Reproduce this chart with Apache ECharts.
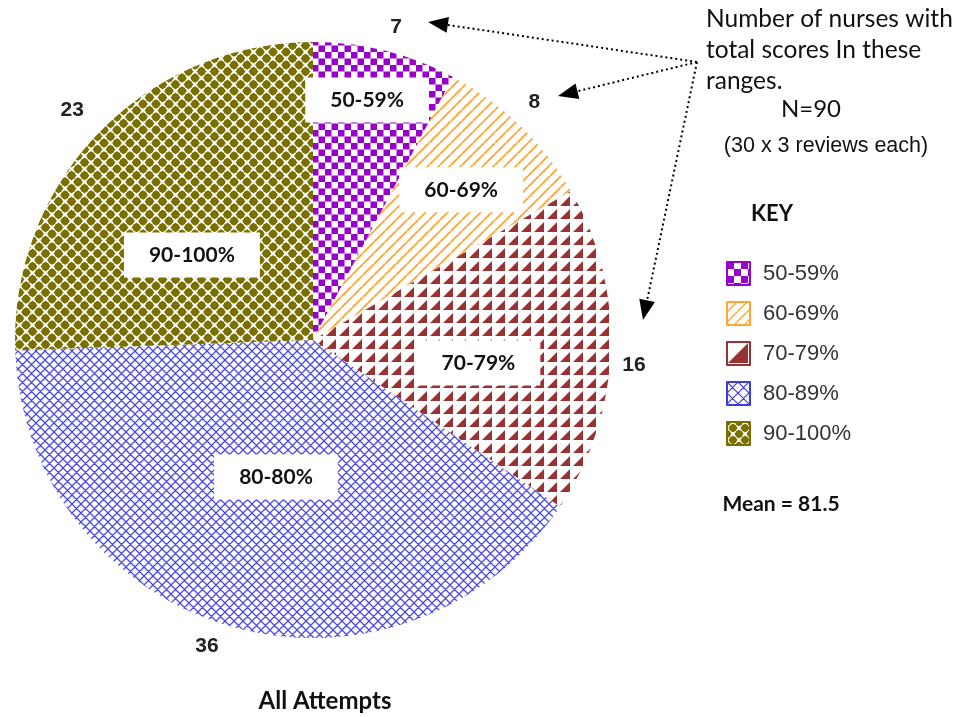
<!DOCTYPE html>
<html>
<head>
<meta charset="utf-8">
<script src="https://cdn.jsdelivr.net/npm/echarts@6/dist/echarts.min.js"></script>
<style>html,body{margin:0;padding:0;background:#fff}#c{width:965px;height:717px}</style>
</head>
<body>
<div id="c"></div>
<script>
// ---- data ----
const categories = ['50-59%', '60-69%', '70-79%', '80-89%', '90-100%'];
const insideLabels = ['50-59%', '60-69%', '70-79%', '80-80%', '90-100%'];
const counts = [7, 8, 16, 36, 23];
const baseColors = ['#9900CC', '#FFA533', '#993333', '#3C3CD8', '#7A7000'];
const title = 'All Attempts';
const noteLines = ['Number of nurses with', 'total scores In these', 'ranges.'];
const nLine = 'N=90';
const reviewsLine = '(30 x 3 reviews each)';
const keyTitle = 'KEY';
const meanText = 'Mean = 81.5';

// ---- layout (not data) ----
const CX = 313, CY = 340, R = 298;
// label placement: [angle offset from slice mid (deg), radius]
const insideLabelPolar = [[-1.3, 246], [0.6, 211], [5.9, 167], [-0.9, 142], [-8.9, 148]];
const outsideLabelPolar = [[0.85, 324], [-1.1, 325], [2.45, 322], [3.1, 324], [-0.3, 333]];

// ---- patterns ----
function mk(s) { const c = document.createElement('canvas'); c.width = s; c.height = s; const g = c.getContext('2d'); g.fillStyle = '#fff'; g.fillRect(0, 0, s, s); return [c, g]; }
function checker(col, s) { const [c, g] = mk(s); g.fillStyle = col; g.fillRect(0, 0, s / 2, s / 2); g.fillRect(s / 2, s / 2, s / 2, s / 2); return c; }
function diag(col, s, lw) { const [c, g] = mk(s); g.strokeStyle = col; g.lineWidth = lw; g.beginPath(); for (let k = -1; k <= 1; k++) { g.moveTo(k * s, s); g.lineTo(k * s + s, 0); } g.stroke(); return c; }
function tri(col, s) { const [c, g] = mk(s); g.fillStyle = col; g.beginPath(); g.moveTo(1, s - 2); g.lineTo(s - 2, s - 2); g.lineTo(s - 2, 1); g.closePath(); g.fill(); return c; }
function hatch(col, s, lw) { const [c, g] = mk(s); g.strokeStyle = col; g.lineWidth = lw; g.beginPath(); for (let k = -1; k <= 1; k++) { g.moveTo(k * s, s); g.lineTo(k * s + s, 0); g.moveTo(k * s, 0); g.lineTo(k * s + s, s); } g.stroke(); return c; }
function diamonds(col, s, r, cr) {
  const [c, g] = mk(s); g.fillStyle = col;
  const pts = [[0, 0], [s, 0], [0, s], [s, s], [s / 2, s / 2]];
  pts.forEach(([x, y]) => {
    g.beginPath(); g.moveTo(x, y - r); g.lineTo(x + r, y); g.lineTo(x, y + r); g.lineTo(x - r, y); g.closePath(); g.fill();
    g.beginPath(); g.arc(x, y, cr, 0, Math.PI * 2); g.fill();
  });
  return c;
}

const patterns = [
  checker(baseColors[0], 13),
  diag(baseColors[1], 11, 1.8),
  tri(baseColors[2], 13),
  hatch('#4C4CE0', 9, 1.3),
  diamonds(baseColors[4], 13, 5.0, 3.9)
];
const legendPatterns = [
  checker(baseColors[0], 14),
  diag(baseColors[1], 10, 1.3),
  tri(baseColors[2], 23),
  hatch('#3C3CD8', 11, 1.2),
  diamonds(baseColors[4], 12, 4.6, 3.7)
];

const total = counts.reduce((a, b) => a + b, 0);
const mids = []; { let acc = 0; counts.forEach(v => { mids.push((acc + v / 2) / total * 360); acc += v; }); }
function polar(deg, r) { const a = deg * Math.PI / 180; return [CX + r * Math.sin(a), CY - r * Math.cos(a)]; }

const pieData = categories.map((n, i) => ({ name: n, value: counts[i], itemStyle: { color: { image: patterns[i], repeat: 'repeat' } } }));

function arrow(from, tip) {
  const dx = tip[0] - from[0], dy = tip[1] - from[1], L = Math.hypot(dx, dy);
  const ux = dx / L, uy = dy / L, hl = 20, hw = 8;
  const bx = tip[0] - ux * hl, by = tip[1] - uy * hl;
  return [
    { type: 'polyline', shape: { points: [from, [bx, by]] }, style: { stroke: '#000', lineWidth: 2, lineDash: [2, 3], fill: null }, silent: true },
    { type: 'polygon', shape: { points: [tip, [bx - uy * hw, by + ux * hw], [bx + uy * hw, by - ux * hw]] }, style: { fill: '#000' }, silent: true }
  ];
}
const origin = [697, 62];

const chart = echarts.init(document.getElementById('c'));
chart.setOption({
  animation: false,
  backgroundColor: '#fff',
  legend: {
    orient: 'vertical', left: 721, top: 256, itemWidth: 23, itemHeight: 23, itemGap: 15,
    icon: 'rect',
    data: categories.map((n, i) => ({ name: n, itemStyle: { color: { image: legendPatterns[i], repeat: 'repeat' }, borderColor: baseColors[i], borderWidth: 2 } })),
    textStyle: { fontFamily: 'Liberation Sans, Arial', fontSize: 22, color: '#333', padding: [0, 0, 0, 8] },
    selectedMode: false
  },
  series: [
    {
      type: 'pie', center: [CX, CY], radius: R, startAngle: 90, clockwise: true,
      data: pieData, silent: true,
      label: {
        show: true, position: 'inside',
        formatter: p => insideLabels[p.dataIndex],
        fontFamily: 'Lato, Noto Sans', fontWeight: 'bold', fontSize: 21, color: '#111',
        backgroundColor: '#fff', padding: [12, 25], lineHeight: 21
      },
      labelLine: { show: false },
      labelLayout: p => { const [da, r] = insideLabelPolar[p.dataIndex]; const [x, y] = polar(mids[p.dataIndex] + da, r); return { x, y, align: 'center', verticalAlign: 'middle' }; }
    },
    {
      type: 'pie', center: [CX, CY], radius: R, startAngle: 90, clockwise: true,
      data: categories.map((n, i) => ({ name: n, value: counts[i] })),
      itemStyle: { color: 'rgba(0,0,0,0)' }, silent: true,
      label: {
        show: true, position: 'outside', formatter: '{c}',
        fontFamily: 'Liberation Sans, Arial', fontWeight: 'bold', fontSize: 21, color: '#222'
      },
      labelLine: { show: false },
      labelLayout: p => { const [da, r] = outsideLabelPolar[p.dataIndex]; const [x, y] = polar(mids[p.dataIndex] + da, r); return { x, y, align: 'center', verticalAlign: 'middle' }; }
    }
  ],
  graphic: [
    ...noteLines.map((t, i) => ({ type: 'text', x: 706, y: 19 + i * 31, style: { text: t, font: '24.5px Lato', fill: '#111', align: 'left', verticalAlign: 'middle' }, silent: true })),
    { type: 'text', x: 811, y: 109, style: { text: nLine, font: '24px Lato', fill: '#111', align: 'center', verticalAlign: 'middle' }, silent: true },
    { type: 'text', x: 826, y: 146, style: { text: reviewsLine, font: '21.5px "Liberation Sans", Arial', fill: '#111', align: 'center', verticalAlign: 'middle' }, silent: true },
    { type: 'text', x: 772, y: 214, style: { text: keyTitle, font: 'bold 22px Lato', fill: '#111', align: 'center', verticalAlign: 'middle' }, silent: true },
    { type: 'text', x: 781, y: 504, style: { text: meanText, font: 'bold 21px Lato', fill: '#111', align: 'center', verticalAlign: 'middle' }, silent: true },
    { type: 'text', x: 325, y: 701, style: { text: title, font: 'bold 24px Lato', fill: '#111', align: 'center', verticalAlign: 'middle' }, silent: true },
    ...arrow(origin, [428, 22]),
    ...arrow(origin, [558, 96]),
    ...arrow(origin, [643, 320])
  ]
});
</script>
</body>
</html>
